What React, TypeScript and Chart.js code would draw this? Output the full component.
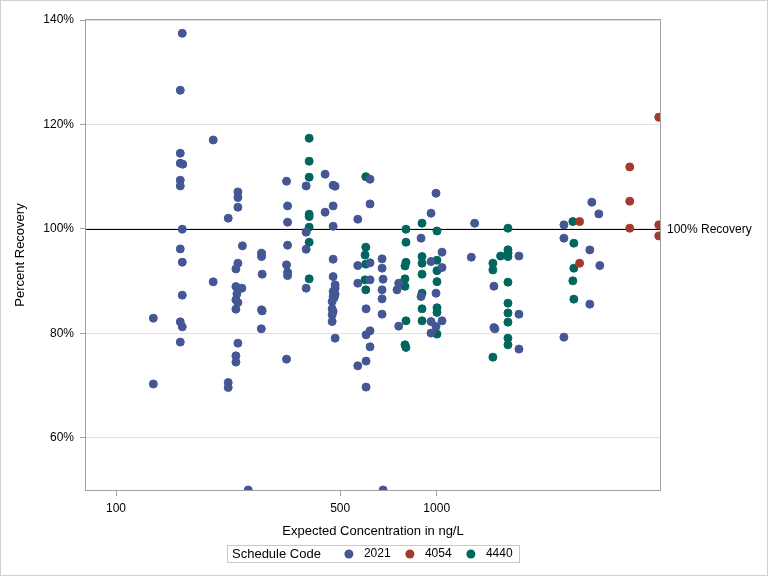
import React, { useEffect, useRef } from "react";
import { Chart, registerables } from "chart.js";

Chart.register(...registerables);

const FONT = "'Liberation Sans', Arial, Helvetica, sans-serif";

const seriesNames = ["2021", "4054", "4440"];
const seriesColors = ["#445694", "#A23A2E", "#01665E"];
const legendTitle = "Schedule Code";
const xTitle = "Expected Concentration in ng/L";
const yTitle = "Percent Recovery";
const xTickValues = [100, 500, 1000];
const yTickValues = [60, 80, 100, 120, 140];
const refValue = 100;
const refLabel = "100% Recovery";

const conc2021 = [
  130.7, 130.7, 160.9, 158.6, 158.6, 158.6, 161.5, 158.6, 158.6, 160.9, 158.6, 160.9, 160.9, 158.6, 160.9, 158.6,
  200.9, 200.9, 223.8, 223.8, 223.8, 239.9, 239.9, 239.9, 239.9, 236.5, 236.5, 246.9, 238.2, 236.5, 239.9, 236.5,
  239.9, 236.5, 236.5, 247.8, 258.3, 284.3, 284.3, 285.6, 284.3, 285.6, 283.8, 340.2, 342.7, 342.7, 342.7, 340.2,
  342.7, 342.7, 340.2, 391.6, 391.6, 391.6, 391.6, 448.7, 448.7, 475.3, 482.2, 475.3, 475.3, 475.3, 475.3, 482.2,
  482.2, 475.3, 482.2, 475.3, 479.0, 472.0, 472.0, 475.3, 472.0, 472.0, 482.2, 567.4, 567.4, 567.4, 567.4, 619.6,
  619.6, 619.6, 619.6, 602.2, 602.2, 619.6, 619.6, 602.2, 602.2, 675.5, 675.5, 680.4, 675.5, 675.5, 675.5, 680.4,
  752, 761.3, 761.3, 893.8, 893.8, 960, 960, 960, 960, 995, 995, 995, 1039, 1039, 1039, 1282, 1313, 1508, 1508,
  1519, 1805, 1805, 1805, 2493, 2493, 2493, 3003, 3003, 3046, 3203, 3226,
];
const rec2021 = [
  82.9, 70.3, 137.45, 126.55, 114.49, 112.57, 112.38, 109.32, 108.23, 99.94, 96.17, 93.63, 87.31, 82.2, 81.24, 78.32,
  117.03, 89.86, 102.05, 70.58, 69.63, 107.08, 105.99, 104.15, 93.43, 92.34, 88.96, 88.65, 87.56, 86.41, 85.9, 84.63,
  78.12, 75.69, 74.49, 96.75, 50.0, 95.35, 94.7, 91.33, 84.5, 84.3, 80.86, 109.13, 104.4, 101.28, 96.88, 93.11,
  91.71, 91.06, 75.06, 108.23, 99.37, 96.11, 88.65, 110.47, 103.2, 108.36, 108.17, 104.4, 100.5, 94.2, 90.87, 89.28,
  88.65, 88.0, 87.5, 87.04, 86.85, 86.09, 84.69, 84.17, 83.54, 82.26, 79.08, 101.85, 92.98, 89.6, 73.78, 109.51,
  104.78, 93.5, 90.24, 84.69, 79.71, 80.48, 77.42, 74.68, 69.7, 94.26, 92.48, 90.37, 88.33, 86.6, 83.67, 50.0,
  88.33, 89.6, 81.38, 98.22, 87.04, 103.0, 93.75, 82.26, 80.04, 106.83, 87.69, 81.3, 95.54, 92.6, 82.39, 94.58, 101.09, 89.03, 81.1,
  80.86, 94.8, 83.67, 76.98, 100.77, 98.22, 79.27, 95.98, 85.59, 105.11, 102.87, 92.98,
];

const conc4054 = [2790, 2790, 4000, 4000, 4000, 4926, 4926, 4926];
const rec4054 = [101.4, 93.43, 111.87, 105.3, 100.13, 121.38, 100.77, 98.66];

const conc4440 = [
  400.2, 400.2, 400.2, 400.2, 400.2, 400.2, 400.2, 400.2, 601, 601, 597.8, 601, 597.8, 601,
  802, 802, 802, 796.4, 796.4, 796.4, 802, 796.4, 802, 900, 900, 900, 900, 900, 900, 900,
  1002, 1002, 1002, 1002, 1002, 1002, 1002, 1497, 1497, 1497, 1582, 1668, 1668, 1668, 1668, 1668,
  1668, 1668, 1668, 1668, 1668, 2658, 2677, 2677, 2658, 2677,
];
const rec4440 = [
  117.36, 112.96, 109.9, 102.81, 102.35, 100.33, 97.45, 90.43, 110.0, 96.5, 95.0, 93.25, 90.24, 88.33,
  99.94, 97.45, 93.6, 92.9, 90.43, 89.0, 82.39, 77.8, 77.3, 101.09, 94.7, 93.43, 91.33, 87.69, 84.69, 82.39,
  99.6, 94.0, 92.0, 89.9, 84.9, 84.0, 79.85, 93.43, 92.15, 75.44, 94.8, 100.13, 96.0, 95.3, 94.7, 89.8,
  85.78, 83.9, 82.14, 79.08, 77.8, 101.4, 97.26, 92.48, 90.05, 86.55,
];

const seriesConc = [conc2021, conc4054, conc4440];
const seriesRec = [rec2021, rec4054, rec4440];

const decorPlugin = {
  id: "decor",
  beforeDatasetsDraw(chart: any) {
    const { ctx, chartArea: a, scales } = chart;
    const py = Math.round(scales.y.getPixelForValue(refValue)) + 0.5;
    ctx.save();
    ctx.strokeStyle = "#000";
    ctx.lineWidth = 1;
    ctx.beginPath();
    ctx.moveTo(a.left, py);
    ctx.lineTo(a.right, py);
    ctx.stroke();
    ctx.fillStyle = "#000";
    ctx.font = `12px ${FONT}`;
    ctx.textAlign = "left";
    ctx.textBaseline = "middle";
    ctx.fillText(refLabel, a.right + 7, py);
    ctx.restore();
  },
  afterDatasetsDraw(chart: any) {
    const { ctx, chartArea: a } = chart;
    ctx.save();
    ctx.strokeStyle = "#a0a0a0";
    ctx.lineWidth = 1;
    ctx.strokeRect(Math.round(a.left) - 0.5, Math.round(a.top) - 0.5, Math.round(a.right - a.left) + 1, Math.round(a.bottom - a.top) + 1);
    ctx.restore();
  },
  afterDraw(chart: any) {
    const { ctx, chartArea: a, width, height } = chart;
    ctx.save();
    ctx.strokeStyle = "#d0d0d0";
    ctx.lineWidth = 1;
    ctx.strokeRect(0.5, 0.5, width - 1, height - 1);
    ctx.font = `13px ${FONT}`;
    const wTitle = ctx.measureText(legendTitle).width;
    ctx.font = `12px ${FONT}`;
    const ds = chart.data.datasets;
    const wItems = ds.map((d: any) => ctx.measureText(d.label).width);
    const r = 4.5;
    const padL = 5, gapTitle = 23.5, gapMT = 10.5, gapItem = 14.8, padR = 6;
    let total = padL + wTitle + gapTitle + padR;
    wItems.forEach((w: number, i: number) => {
      total += 2 * r + gapMT + w + (i < wItems.length - 1 ? gapItem : 0);
    });
    const boxH = 17;
    const left = Math.round((a.left + a.right) / 2 - total / 2);
    const top = 545;
    const cy = top + boxH / 2 + 0.5;
    ctx.strokeStyle = "#c8c8c8";
    ctx.strokeRect(left + 0.5, top + 0.5, Math.round(total), boxH);
    ctx.fillStyle = "#000";
    ctx.textBaseline = "middle";
    ctx.textAlign = "left";
    ctx.font = `13px ${FONT}`;
    let x = left + padL;
    ctx.fillText(legendTitle, x, cy);
    x += wTitle + gapTitle;
    ctx.font = `12px ${FONT}`;
    ds.forEach((d: any, i: number) => {
      ctx.fillStyle = d.backgroundColor;
      ctx.beginPath();
      ctx.arc(x + r, cy, r, 0, Math.PI * 2);
      ctx.fill();
      x += 2 * r + gapMT;
      ctx.fillStyle = "#000";
      ctx.fillText(d.label, x, cy);
      x += wItems[i] + gapItem;
    });
    ctx.restore();
  },
};

export default function App() {
  const ref = useRef<HTMLCanvasElement | null>(null);
  useEffect(() => {
    if (!ref.current) return;
    const datasets = seriesNames.map((name, i) => ({
      label: name,
      data: seriesConc[i].map((c, j) => ({ x: c, y: seriesRec[i][j] })),
      backgroundColor: seriesColors[i],
      borderColor: seriesColors[i],
      pointRadius: 4,
      pointBorderWidth: 1,
      pointHoverRadius: 4,
      showLine: false,
      clip: 0,
    }));
    const chart = new Chart(ref.current, {
      type: "scatter",
      data: { datasets },
      options: {
        animation: false,
        responsive: false,
        devicePixelRatio: 1,
        events: [],
        layout: { padding: { left: 0, top: 20, right: 108, bottom: 36 } },
        plugins: {
          legend: { display: false },
          tooltip: { enabled: false },
        },
        scales: {
          x: {
            type: "logarithmic",
            min: 80.6,
            max: 4970,
            afterBuildTicks: (s: any) => {
              s.ticks = xTickValues.map((v) => ({ value: v }));
            },
            afterFit: (s: any) => {
              s.height = 50;
            },
            ticks: {
              callback: (v: any) => String(v),
              color: "#000",
              font: { family: FONT, size: 12 },
              padding: 5,
              maxRotation: 0,
              autoSkip: false,
            },
            grid: {
              drawOnChartArea: false,
              drawTicks: true,
              tickLength: 6,
              tickColor: "#a0a0a0",
            },
            border: { display: false },
            title: {
              display: true,
              text: xTitle,
              color: "#000",
              font: { family: FONT, size: 13 },
              padding: { top: 0, bottom: 1 },
            },
          },
          y: {
            type: "linear",
            min: 50,
            max: 140,
            afterBuildTicks: (s: any) => {
              s.ticks = yTickValues.map((v) => ({ value: v }));
            },
            afterFit: (s: any) => {
              s.width = 86;
            },
            ticks: {
              callback: (v: any) => `${v}%`,
              color: "#000",
              font: { family: FONT, size: 12 },
              padding: 6,
            },
            grid: {
              color: "#e2e2e2",
              drawTicks: true,
              tickLength: 6,
              tickColor: "#a0a0a0",
            },
            border: { display: false },
            title: {
              display: true,
              text: yTitle,
              color: "#000",
              font: { family: FONT, size: 13 },
              padding: { top: 13, bottom: 0 },
            },
          },
        },
      },
      plugins: [decorPlugin],
    });
    return () => chart.destroy();
  }, []);
  return (
    <div style={{ position: "absolute", left: 0, top: 0, width: 768, height: 576, background: "#fff" }}>
      <canvas ref={ref} width={768} height={576} style={{ width: 768, height: 576, display: "block" }} />
    </div>
  );
}
